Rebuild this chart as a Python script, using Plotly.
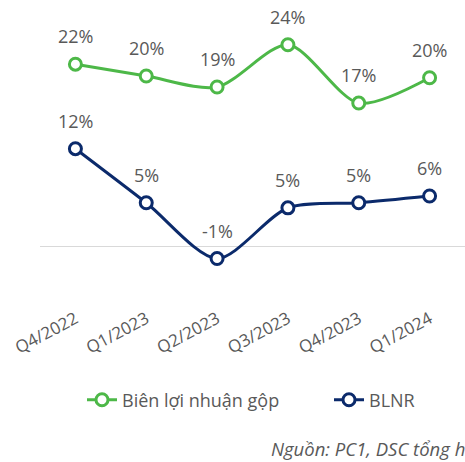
import plotly.graph_objects as go

categories = ["Q4/2022", "Q1/2023", "Q2/2023", "Q3/2023", "Q4/2023", "Q1/2024"]
gross_margin = [21.6, 20.2, 18.9, 23.9, 17.0, 20.0]
net_margin = [11.6, 5.2, -1.4, 4.6, 5.2, 6.0]
series_names = ["Biên lợi nhuận gộp", "BLNR"]
source_note = "Nguồn: PC1, DSC tổng hợp"

GREEN = "#4DB848"
NAVY = "#0B2A6B"
TEXT = "#595959"
FONT = "Open Sans"

W, H = 465, 462
L, T, B = 40, 20, 157
PW, PH = W - L, H - T - B


def px_x(x):
    return (x - L) / PW


def px_y(y):
    return (T + PH - y) / PH


fig = go.Figure()
for i, (name, vals, col) in enumerate([(series_names[0], gross_margin, GREEN),
                                       (series_names[1], net_margin, NAVY)]):
    fig.add_trace(go.Scatter(
        x=categories, y=vals, name=name, mode="lines+markers",
        line=dict(color=col, width=3, shape="spline", smoothing=0.8),
        marker=dict(symbol="circle", size=12, color="white", line=dict(color=col, width=3)),
        hoverinfo="skip", legend="legend" if i == 0 else "legend2",
    ))
    for c, v in zip(categories, vals):
        fig.add_annotation(x=c, y=v, text=f"{round(v):.0f}%", showarrow=False,
                           yanchor="middle", yshift=28,
                           font=dict(family=FONT, size=18, color=TEXT))

fig.add_annotation(xref="paper", yref="paper", x=px_x(269), y=px_y(448),
                   xanchor="left", yanchor="middle", text=f"<i>{source_note}</i>",
                   showarrow=False, font=dict(family=FONT, size=18.5, color=TEXT))

legend_common = dict(orientation="h", xanchor="left", yanchor="middle",
                     font=dict(family=FONT, size=18, color=TEXT), bgcolor="rgba(0,0,0,0)")
fig.update_layout(
    width=W, height=H,
    margin=dict(l=L, r=0, t=T, b=B),
    paper_bgcolor="white", plot_bgcolor="white",
    font=dict(family=FONT, color=TEXT),
    showlegend=True,
    legend=dict(x=px_x(82), y=px_y(400), **legend_common),
    legend2=dict(x=px_x(329), y=px_y(400), **legend_common),
    xaxis=dict(range=[-0.5, 5.5], showgrid=False, showline=False, ticks="", tickangle=-28,
               tickfont=dict(family=FONT, size=17, color=TEXT)),
    yaxis=dict(range=[-6.9, 26.83], showgrid=False, showticklabels=False,
               zeroline=True, zerolinecolor="#D9D9D9", zerolinewidth=1),
)
fig.write_html("out.html", config={"displayModeBar": False},
               post_script="document.body.style.margin='0';")
